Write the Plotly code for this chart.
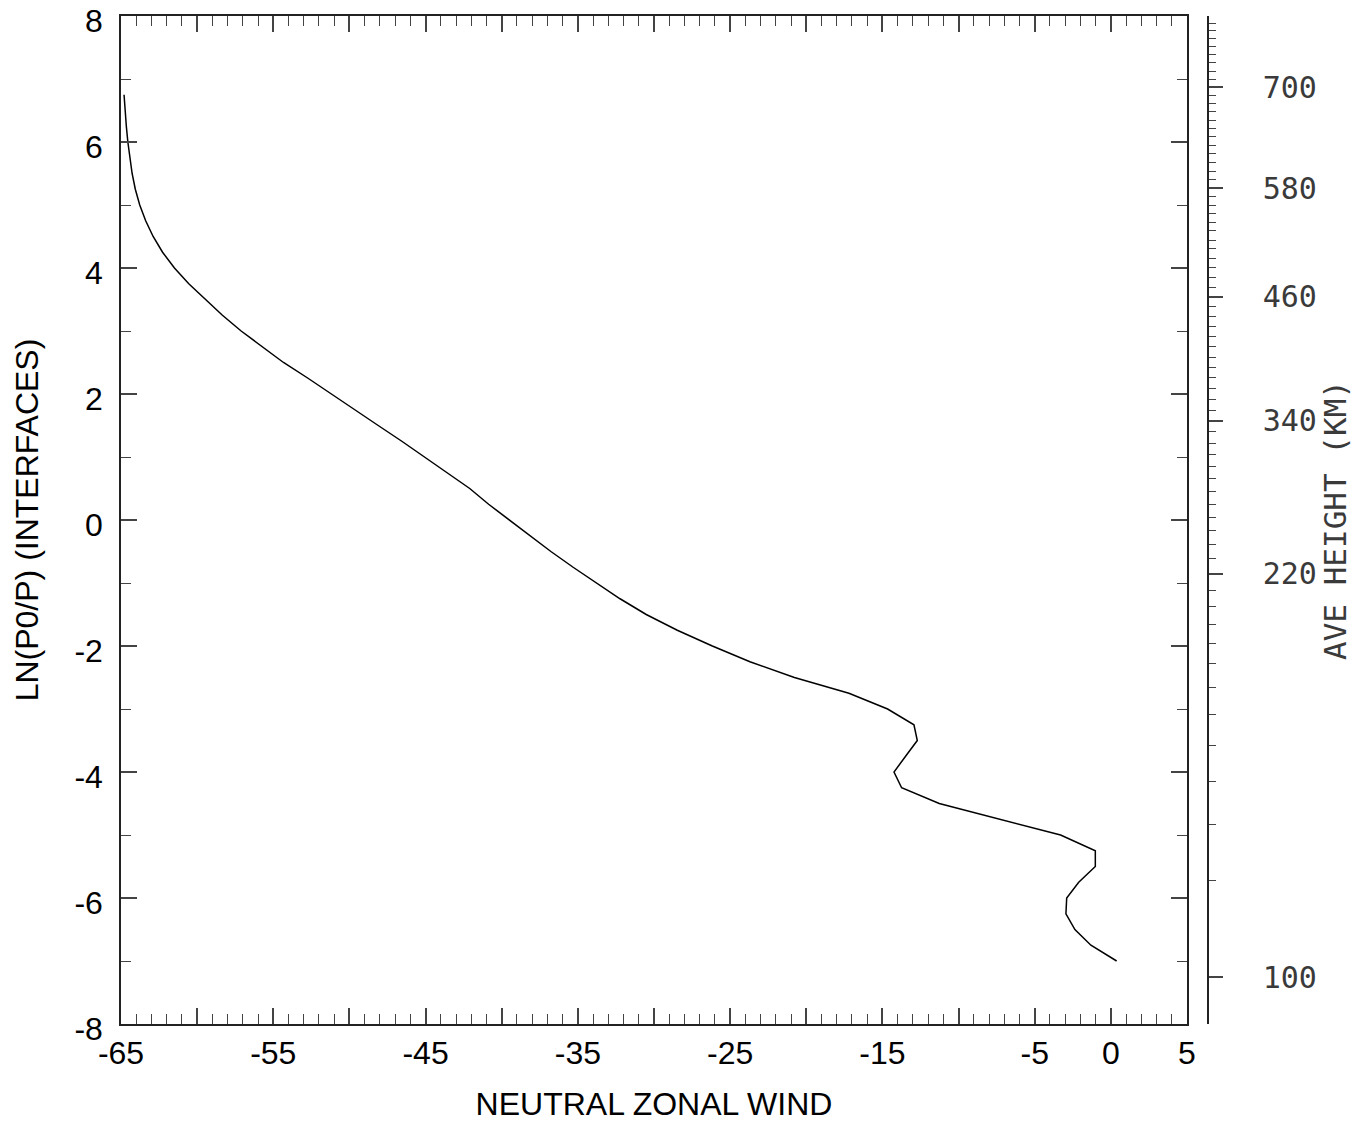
import plotly.graph_objects as go

# ---- data ----
lnp_levels = [-7.0, -6.75, -6.5, -6.25, -6.0, -5.75, -5.5, -5.25, -5.0, -4.75, -4.5, -4.25,
              -4.0, -3.75, -3.5, -3.25, -3.0, -2.75, -2.5, -2.25, -2.0, -1.75, -1.5, -1.25,
              -1.0, -0.75, -0.5, -0.25, 0.0, 0.25, 0.5, 0.75, 1.0, 1.25, 1.5, 1.75, 2.0,
              2.25, 2.5, 2.75, 3.0, 3.25, 3.5, 3.75, 4.0, 4.25, 4.5, 4.75, 5.0, 5.25, 5.5,
              5.75, 6.0, 6.25, 6.5, 6.75]
zonal_wind = [0.38, -1.31, -2.36, -2.95, -2.90, -2.11, -1.02, -1.02, -3.30, -7.29, -11.27, -13.74,
              -14.24, -13.48, -12.71, -12.93, -14.66, -17.2, -20.78, -23.70, -26.17, -28.47, -30.51, -32.23,
              -33.80, -35.31, -36.77, -38.15, -39.53, -40.86, -42.10, -43.58, -45.07, -46.56, -48.11, -49.62, -51.13,
              -52.72, -54.33, -55.75, -57.11, -58.34, -59.48, -60.55, -61.49, -62.27, -62.89, -63.38, -63.77, -64.06, -64.27,
              -64.43, -64.55, -64.65, -64.73, -64.80]

# x axis ticks
x_major_vals = [-65, -60, -55, -50, -45, -40, -35, -30, -25, -20, -15, -10, -5, 0, 5]
x_major_text = ["-65", "", "-55", "", "-45", "", "-35", "", "-25", "", "-15", "", "-5", "0", "5"]
y_major_vals = [-8, -6, -4, -2, 0, 2, 4, 6, 8]
y_major_text = ["-8", "-6", "-4", "-2", "0", "2", "4", "6", "8"]

# right axis: average height (km) and where each 10 km tick sits in LN(P0/P)
height_km = [100, 110, 120, 130, 140, 150, 160, 170, 180, 190, 200, 210, 220, 230, 240, 250,
             260, 270, 280, 290, 300, 310, 320, 330, 340, 350, 360, 370, 380, 390, 400, 410,
             420, 430, 440, 450, 460, 470, 480, 490, 500, 510, 520, 530, 540, 550, 560, 570,
             580, 590, 600, 610, 620, 630, 640, 650, 660, 670, 680, 690, 700, 710, 720, 730,
             740, 750, 760, 770, 780]
height_lnp = [-7.254, -5.730, -4.833, -4.151, -3.578, -3.090, -2.651, -2.279, -1.968, -1.659, -1.378,
              -1.114, -0.854, -0.616, -0.389, -0.170, 0.043, 0.251, 0.454, 0.652, 0.846, 1.035,
              1.219, 1.398, 1.573, 1.746, 1.917, 2.087, 2.256, 2.422, 2.587, 2.751, 2.913, 3.073,
              3.232, 3.389, 3.544, 3.698, 3.852, 4.005, 4.154, 4.302, 4.444, 4.592, 4.730, 4.868,
              5.000, 5.132, 5.265, 5.402, 5.535, 5.671, 5.810, 5.952, 6.084, 6.217, 6.349, 6.481,
              6.614, 6.741, 6.868, 6.995, 7.127, 7.259, 7.386, 7.513, 7.640, 7.767, 7.884]
height_labels = [100, 220, 340, 460, 580, 700]

# ---- figure ----
# page body adds an 8 px offset; the figure is sized so the plot lands where the reference has it
OFF = 8
W, H = 1365 - OFF, 1125 - OFF
left, right_plot, right_axis, top, bottom = 121, 1187, 1208, 16, 1024
dom_end = (right_plot - left) / (right_axis - left)

main_font = "Liberation Sans, Arial, Helvetica, sans-serif"
thin_font = "DejaVu Sans Mono, Liberation Mono, monospace"
axcol = "#222222"
tkcol = "#444444"

fig = go.Figure()
fig.add_trace(go.Scatter(x=zonal_wind, y=lnp_levels, mode="lines",
                         line=dict(color="black", width=1.5), showlegend=False))
fig.add_trace(go.Scatter(x=[None], y=[None], yaxis="y2", mode="lines",
                         showlegend=False, hoverinfo="skip"))

lab_map = {h: v for h, v in zip(height_km, height_lnp)}

fig.update_layout(
    width=W, height=H,
    margin=dict(l=left - OFF, r=1365 - right_axis, t=top - OFF, b=1125 - bottom, autoexpand=False),
    paper_bgcolor="white", plot_bgcolor="white",
    showlegend=False,
    xaxis=dict(
        domain=[0, dom_end], range=[-65, 5], showgrid=False, zeroline=False,
        showline=True, linecolor=axcol, linewidth=1.5, mirror="ticks",
        ticks="inside", ticklen=16, tickwidth=1.5, tickcolor=tkcol,
        tickmode="array", tickvals=x_major_vals, ticktext=x_major_text,
        minor=dict(dtick=1, tick0=0, ticks="inside", ticklen=10, tickwidth=1.2, tickcolor=tkcol),
        tickfont=dict(family=main_font, size=32, color="black"),
        ticklabelstandoff=0, ticklabeloverflow="allow",
        title=dict(text="NEUTRAL ZONAL WIND", font=dict(family=main_font, size=32, color="black"),
                   standoff=22),
    ),
    yaxis=dict(
        range=[-8, 8], showgrid=False, zeroline=False,
        showline=True, linecolor=axcol, linewidth=1.5, mirror="ticks",
        ticks="inside", ticklen=16, tickwidth=1.5, tickcolor=tkcol,
        tickmode="array", tickvals=y_major_vals, ticktext=y_major_text,
        minor=dict(dtick=1, tick0=0, ticks="inside", ticklen=10, tickwidth=1.2, tickcolor=tkcol),
        tickfont=dict(family=main_font, size=32, color="black"),
        ticklabelstandoff=10, ticklabeloverflow="allow", ticklabelshift=5,
        title=dict(text="LN(P0/P) (INTERFACES)", font=dict(family=main_font, size=32, color="black"),
                   standoff=26),
    ),
    yaxis2=dict(
        overlaying="y", anchor="free", position=1.0, side="right",
        range=[-8, 8], showgrid=False, zeroline=False,
        showline=True, linecolor=axcol, linewidth=1.5,
        ticks="outside", ticklen=14, tickwidth=1.5, tickcolor=tkcol,
        tickmode="array", tickvals=[lab_map[h] for h in height_labels],
        ticktext=[str(h) for h in height_labels],
        minor=dict(tickmode="array", tickvals=height_lnp, ticks="outside", ticklen=7,
                   tickwidth=1.2, tickcolor=tkcol),
        tickfont=dict(family=thin_font, size=30, color="#3a3a3a"),
        ticklabelstandoff=34,
        title=dict(text="AVE HEIGHT (KM)", font=dict(family=thin_font, size=31, color="#3a3a3a"),
                   standoff=4),
    ),
)

fig.write_html("out.html")
